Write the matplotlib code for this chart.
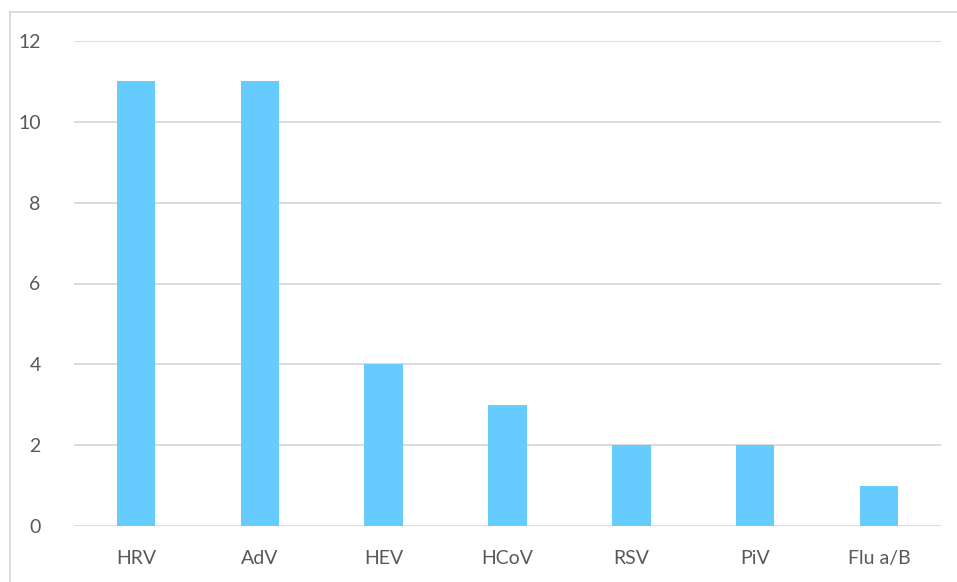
import matplotlib
matplotlib.use('Agg')
import matplotlib.pyplot as plt
from matplotlib.lines import Line2D

viruses = ['HRV', 'AdV', 'HEV', 'HCoV', 'RSV', 'PiV', 'Flu a/B']
counts = [11, 11, 4, 3, 2, 2, 1]
y_ticks = [0, 2, 4, 6, 8, 10, 12]

plt.rcParams['font.family'] = ['Lato', 'DejaVu Sans']

fig = plt.figure(figsize=(9.57, 5.82), dpi=100)
ax = fig.add_axes([74/957, 1-526/582, (941-74)/957, (526-41)/582])

ax.bar(range(len(viruses)), counts, width=0.31, color='#66CCFF', zorder=3)
ax.set_xlim(-0.5, len(viruses)-0.5)
ax.set_ylim(0, 12)
ax.set_yticks(y_ticks)
ax.set_xticks(range(len(viruses)))
ax.set_xticklabels(viruses)
ax.grid(axis='y', color='#D9D9D9', linewidth=1.3, zorder=0)
for s in ax.spines.values():
    s.set_visible(False)
ax.tick_params(length=0, colors='#595959', labelsize=14)
ax.tick_params(axis='y', pad=24)
ax.tick_params(axis='x', pad=17)

# chart area border (top and left visible)
fig.add_artist(Line2D([10/957, 10/957], [0, 1-12/582], color='#D9D9D9', lw=1.3))
fig.add_artist(Line2D([10/957, 1], [1-12/582, 1-12/582], color='#D9D9D9', lw=1.3))

fig.savefig('out.png', dpi=100)
